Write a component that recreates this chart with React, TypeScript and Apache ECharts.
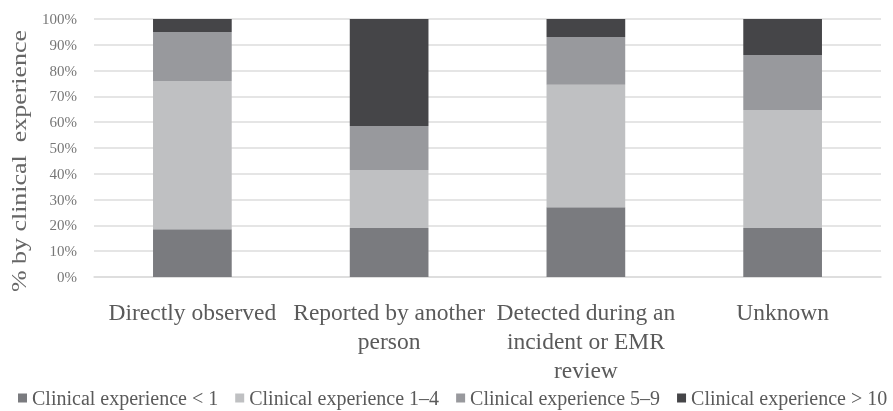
import React, { useEffect, useRef } from "react";
import * as echarts from "echarts";

const categories = [
  "Directly observed",
  "Reported by another\nperson",
  "Detected during an\nincident or EMR\nreview",
  "Unknown",
];
const seriesNames = [
  "Clinical experience < 1",
  "Clinical experience 1–4",
  "Clinical experience 5–9",
  "Clinical experience > 10",
];
const lessThan1 = [18.5, 19, 27, 19];
const exp1to4 = [57.5, 22.5, 47.5, 45.7];
const exp5to9 = [19, 17, 18.5, 21.3];
const moreThan10 = [5, 41.5, 7, 14];
const yTicks = [0, 10, 20, 30, 40, 50, 60, 70, 80, 90, 100];
const colors = ["#7a7b7f", "#bfc0c2", "#98999d", "#454548"];

const serif = "Liberation Serif";

export default function App() {
  const ref = useRef<HTMLDivElement>(null);
  useEffect(() => {
    if (!ref.current) return;
    const chart = echarts.init(ref.current, undefined, { renderer: "svg" });
    const values = [lessThan1, exp1to4, exp5to9, moreThan10];
    chart.setOption({
      animation: false,
      grid: { left: 94, right: 12, top: 19, bottom: 134 },
      legend: {
        top: 388,
        left: 18,
        width: 875,
        padding: 0,
        icon: "rect",
        itemWidth: 9,
        itemHeight: 9,
        itemGap: 17,
        textStyle: { fontFamily: serif, fontSize: 20, color: "#5a5a5a" },
        data: seriesNames,
      },
      graphic: [
        {
          type: "text",
          x: 19,
          y: 161,
          rotation: Math.PI / 2,
          scaleX: 1.18,
          style: {
            text: "% by clinical  experience",
            font: `22px ${serif}`,
            fill: "#666",
            textAlign: "center",
            textVerticalAlign: "middle",
          },
        },
      ],
      xAxis: {
        type: "category",
        data: categories,
        axisLine: { lineStyle: { color: "#dcdcdc", width: 1.5 } },
        axisTick: { show: false },
        axisLabel: {
          fontFamily: serif,
          fontSize: 23.5,
          lineHeight: 29,
          color: "#5a5a5a",
          margin: 20,
          interval: 0,
        },
      },
      yAxis: {
        type: "value",
        min: yTicks[0],
        max: yTicks[yTicks.length - 1],
        interval: 10,
        axisLine: { show: false },
        axisTick: { show: false },
        splitLine: { lineStyle: { color: "#dcdcdc", width: 1.5 } },
        axisLabel: {
          formatter: "{value}%",
          fontFamily: serif,
          fontSize: 15,
          color: "#777",
          margin: 17,
        },
      },
      series: seriesNames.map((name, i) => ({
        name,
        type: "bar",
        stack: "total",
        barWidth: "40%",
        data: values[i],
        itemStyle: { color: colors[i] },
      })),
    });
    return () => chart.dispose();
  }, []);
  return (
    <div
      ref={ref}
      style={{ position: "fixed", left: 0, top: 0, width: 893, height: 411 }}
    />
  );
}
